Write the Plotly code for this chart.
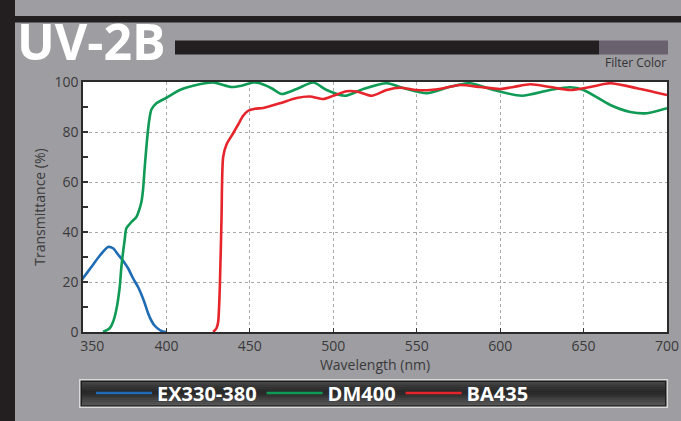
import plotly.graph_objects as go

# ---------------- data ----------------
ex_wl = [345, 350, 355, 360, 365, 368, 371, 374, 377, 380, 383, 385, 387, 389, 391, 393, 396, 398, 400]
ex_t = [17, 21.5, 26, 30.5, 34, 33.5, 31, 28.5, 25.5, 21.5, 18, 15, 11.5, 7.5, 4.5, 2.5, 0.8, 0.2, 0]

dm_wl = [362, 366, 368, 370, 372, 373, 375, 376, 379, 382, 383, 385, 386, 387, 389, 390, 391, 394,
         400, 408, 416, 428, 439, 445, 452, 456, 463, 469, 478, 488, 496, 507, 518, 532, 542, 556,
         570, 582, 596, 613, 630, 642, 650, 666, 678, 688, 700]
dm_t = [0, 1.5, 4, 9, 18, 26, 37, 41.5, 44, 46, 47.5, 52, 57, 66, 81, 86, 89, 91.5,
        93.7, 96.8, 98.5, 99.8, 98, 98.5, 99.8, 99.5, 97.5, 95.2, 97.2, 99.8, 96.8, 94.5, 97.2, 99.5, 97.6, 95.5,
        98.1, 99.5, 96.8, 94.5, 96.8, 97.9, 96.8, 90.8, 88, 87.5, 89.5]

ba_wl = [428, 430, 431, 432, 433, 434, 436, 440, 443, 446, 449, 453, 458, 468, 478, 486, 494, 500,
         508, 514, 523, 532, 540, 550, 558, 566, 576, 588, 600, 608, 618, 630, 642, 654, 666, 682, 692, 700]
ba_t = [0, 1.5, 4, 18, 45, 70, 75, 79.5, 83, 86.5, 88.5, 89.3, 89.6, 91.5, 93.6, 94.2, 93.2, 94.5,
        96.3, 96.2, 94.5, 96.8, 97.7, 96.8, 96.8, 97.5, 98.8, 98, 97.2, 98, 99.1, 98, 96.8, 98, 99.5, 97.5, 96, 94.8]

series_names = ["EX330-380", "DM400", "BA435"]
series_colors = ["#1f6cb4", "#0f9a55", "#e6242b"]

x_ticks = [350, 400, 450, 500, 550, 600, 650, 700]
x_ticktext = ["\u2007\u2007\u2009350", "400", "450", "500", "550", "600", "650", "700"]
y_ticks = [0, 20, 40, 60, 80, 100]

# ---------------- geometry helpers ----------------
W, H = 681, 421
ML, MR, MT, MB = 83, 14, 82, 89
PW, PH = W - ML - MR, H - MT - MB


def px(xp):
    return (xp - ML) / PW


def py(yp):
    return (H - MB - yp) / PH


fig = go.Figure()
for wl, t, name, col in zip([ex_wl, dm_wl, ba_wl], [ex_t, dm_t, ba_t], series_names, series_colors):
    fig.add_trace(go.Scatter(x=wl, y=t, name=name, mode="lines",
                             line=dict(color=col, width=2.6, shape="spline", smoothing=0.7)))

shapes = []
dark = "#231f20"
shapes.append(dict(type="rect", xref="paper", yref="paper", x0=px(0), x1=px(15), y0=py(0), y1=py(421),
                   fillcolor=dark, line_width=0, layer="below"))
shapes.append(dict(type="rect", xref="paper", yref="paper", x0=px(15), x1=px(681), y0=py(16), y1=py(22.5),
                   fillcolor=dark, line_width=0, layer="below"))
shapes.append(dict(type="rect", xref="paper", yref="paper", x0=px(175), x1=px(599), y0=py(40.5), y1=py(54.5),
                   fillcolor=dark, line_width=0, layer="below"))
shapes.append(dict(type="rect", xref="paper", yref="paper", x0=px(599), x1=px(668), y0=py(40.5), y1=py(54.5),
                   fillcolor="#6a616f", line_width=0, layer="below"))

lx0, lx1, ly0, ly1 = 79, 668, 379, 408
shapes.append(dict(type="rect", xref="paper", yref="paper", x0=px(lx0), x1=px(lx1), y0=py(ly0), y1=py(ly1),
                   fillcolor="#d9d9d9", line_width=0, layer="below"))
shapes.append(dict(type="rect", xref="paper", yref="paper", x0=px(lx0 + 1.5), x1=px(lx1 - 1.5),
                   y0=py(ly0 + 1.5), y1=py(ly1 - 1.5), fillcolor="#1e1e1e", line_width=0, layer="below"))
gx0, gx1, gy0, gy1 = lx0 + 3, lx1 - 3, ly0 + 3, ly1 - 3
n = 13
stops = [(0.0, (72, 72, 72)), (0.45, (38, 38, 38)), (1.0, (92, 92, 92))]


def grad(f):
    for (f0, c0), (f1, c1) in zip(stops[:-1], stops[1:]):
        if f0 <= f <= f1:
            u = (f - f0) / (f1 - f0)
            return "rgb(%d,%d,%d)" % tuple(int(a + (b - a) * u) for a, b in zip(c0, c1))
    return "rgb(%d,%d,%d)" % stops[-1][1]


step = (gy1 - gy0) / n
for i in range(n):
    shapes.append(dict(type="rect", xref="paper", yref="paper", x0=px(gx0), x1=px(gx1),
                       y0=py(gy0 + i * step), y1=py(gy0 + (i + 1) * step + 0.3),
                       fillcolor=grad((i + 0.5) / n), line_width=0, layer="below"))

annotations = [
    dict(text="UV-2B", xref="paper", yref="paper", x=px(15), y=py(41), xanchor="left", yanchor="middle",
         showarrow=False, font=dict(family="Open Sans", size=50, color="white", weight=700)),
    dict(text="Filter Color", xref="paper", yref="paper", x=px(668), y=py(63), xanchor="right", yanchor="middle",
         showarrow=False, font=dict(family="Open Sans", size=12, color="#333333")),
]

axis_font = dict(family="Open Sans", size=14, color="#3a3a3a")
fig.update_layout(
    width=W, height=H,
    margin=dict(l=ML, r=MR, t=MT, b=MB, autoexpand=False),
    paper_bgcolor="#9e9da2",
    plot_bgcolor="white",
    shapes=shapes,
    annotations=annotations,
    showlegend=True,
    legend=dict(orientation="h", x=px(91), y=py(393), xanchor="left", yanchor="middle",
                bgcolor="rgba(0,0,0,0)", borderwidth=0,
                font=dict(family="Open Sans", size=20, color="white", weight=700),
                itemwidth=56, tracegroupgap=0),
    xaxis=dict(range=[350, 700], tickvals=x_ticks, ticktext=x_ticktext, automargin=False,
               showgrid=True, gridcolor="#a9a9a9", griddash="3px,3px", gridwidth=1,
               ticks="inside", ticklen=4, tickcolor="#333", tickwidth=1,
               showline=True, mirror=True, linecolor="#2b2b2b", linewidth=1.5,
               zeroline=False, tickfont=axis_font,
               title=dict(text="Wavelength (nm)", font=dict(family="Open Sans", size=14, color="#3a3a3a"),
                          standoff=0)),
    yaxis=dict(range=[0, 100], tickvals=y_ticks, automargin=False,
               showgrid=True, gridcolor="#a9a9a9", griddash="3px,3px", gridwidth=1,
               ticks="inside", ticklen=5, tickcolor="#333", tickwidth=1.5,
               minor=dict(dtick=10, ticks="inside", ticklen=5, tickcolor="#333", showgrid=False),
               showline=True, mirror=True, linecolor="#2b2b2b", linewidth=1.5,
               zeroline=False, tickfont=axis_font,
               title=dict(text="Transmittance (%)", font=dict(family="Open Sans", size=14, color="#3a3a3a"),
                          standoff=6)),
)

fig.write_html("out.html", config={"displayModeBar": False},
               post_script="document.body.style.margin='0';document.documentElement.style.overflow='hidden';")
